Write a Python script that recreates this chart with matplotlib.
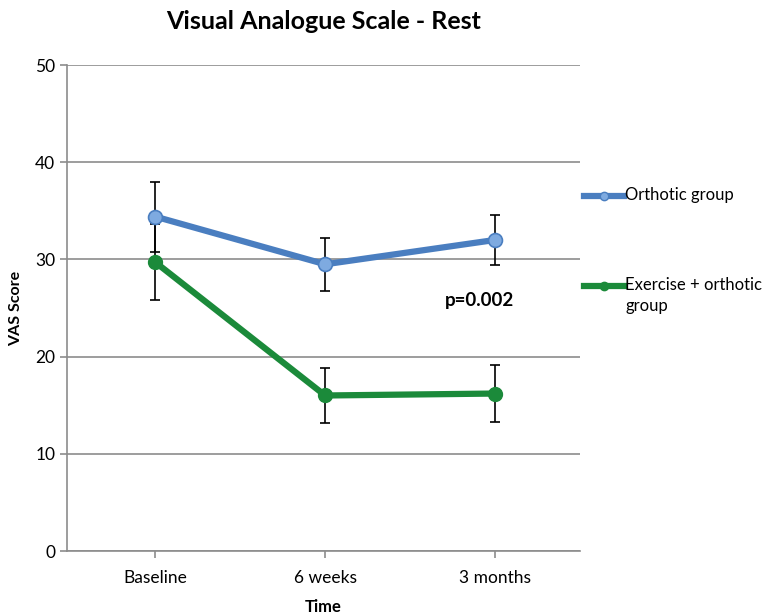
import matplotlib.pyplot as plt
from matplotlib.lines import Line2D
import numpy as np

plt.rcParams['font.family'] = ['Lato', 'DejaVu Sans']

timepoints = ['Baseline', '6 weeks', '3 months']
orthotic_mean = [34.4, 29.5, 32.0]
orthotic_err = [3.6, 2.7, 2.6]
exercise_mean = [29.7, 16.0, 16.2]
exercise_err = [3.9, 2.8, 2.9]
p_label = 'p=0.002'

blue = '#4a7ec0'
green = '#1b8a3a'
grey = '#8c8c8c'

x = np.arange(len(timepoints))

fig = plt.figure(figsize=(7.72, 6.14), dpi=100)
ax = fig.add_axes([0.087, 0.1026, 0.664, 0.7915])

# error bars behind the lines
ax.errorbar(x, orthotic_mean, yerr=orthotic_err, fmt='none', ecolor='black',
            elinewidth=1.2, capsize=3.3, capthick=1.2, zorder=2)
ax.errorbar(x, exercise_mean, yerr=exercise_err, fmt='none', ecolor='black',
            elinewidth=1.2, capsize=3.3, capthick=1.2, zorder=2)

ax.plot(x, orthotic_mean, color=blue, lw=4.5, marker='o', ms=10,
        mfc='#7eaae0', mec=blue, mew=1.2, zorder=3)
ax.plot(x, exercise_mean, color=green, lw=4.5, marker='o', ms=10,
        mfc=green, mec=green, zorder=3)

ax.set_ylim(0, 50)
ax.set_xlim(-0.52, 2.5)
ax.set_yticks([0, 10, 20, 30, 40, 50])
ax.set_xticks(x)
ax.set_xticklabels(timepoints)
ax.yaxis.grid(True, color=grey, lw=1.2)
ax.set_axisbelow(True)
for s in ['top', 'right']:
    ax.spines[s].set_visible(False)
for s in ['left', 'bottom']:
    ax.spines[s].set_color(grey)
    ax.spines[s].set_linewidth(1.2)
ax.tick_params(axis='both', colors=grey, labelcolor='black', labelsize=12.5,
               length=5, width=1.2)
ax.tick_params(axis='x', pad=9)

ax.set_xlabel('Time', fontsize=12, fontweight='bold', labelpad=9)
ax.set_ylabel('VAS Score', fontsize=11.5, fontweight='bold', labelpad=9)
ax.set_title('Visual Analogue Scale - Rest', fontsize=18, fontweight='bold',
             pad=26)

ax.text(1.91, 25.8, p_label, fontsize=13.5, fontweight='bold',
        ha='center', va='center')

# legend drawn by hand so the handle sits on the first text line
def legend_item(y, color, face, label):
    fig.add_artist(Line2D([0.756, 0.808], [y, y], color=color, lw=4.5,
                          transform=fig.transFigure))
    fig.add_artist(Line2D([0.782], [y], color=color, marker='o', ms=6,
                          mfc=face, mec=color, transform=fig.transFigure))
    fig.text(0.81, y + 0.015, label, fontsize=12, va='top', ha='left',
             linespacing=1.4, transform=fig.transFigure)

legend_item(1 - 196 / 614, blue, '#7eaae0', 'Orthotic group')
legend_item(1 - 286 / 614, green, green, 'Exercise + orthotic\ngroup')

fig.savefig('out.png', dpi=100)
